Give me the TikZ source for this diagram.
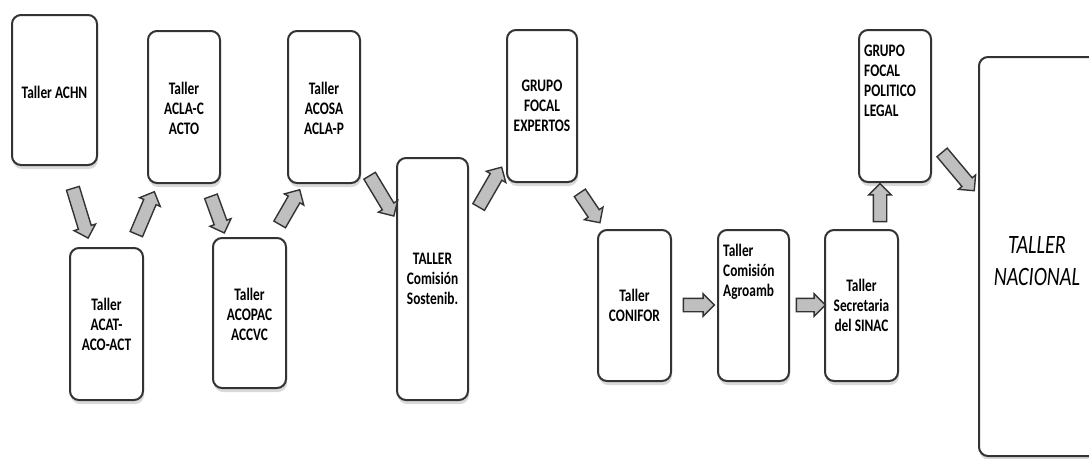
\documentclass[tikz,border=0pt]{standalone}
\usepackage{fontspec}
\setmainfont{Carlito}
\newfontfamily\narrowfont[FakeStretch=0.76]{Carlito}
\usetikzlibrary{shapes.arrows,shadows}
\tikzset{
  etapa/.style={draw=black!80,line width=2pt,rounded corners=9pt,fill=white,
    drop shadow={shadow xshift=1pt,shadow yshift=-4pt,opacity=0.3}},
  rotulo/.style={font=\narrowfont\bfseries\fontsize{17.6}{20}\selectfont,align=center,inner sep=0pt},
  flecha/.style={single arrow,draw=black!80,line width=1.4pt,fill=black!25,inner xsep=0pt,
    inner ysep=6pt,minimum width=0pt,single arrow head extend=4.5pt}
}
\begin{document}
\begin{tikzpicture}[x=1pt,y=-1pt]
  \useasboundingbox (0,0) rectangle (1089,458);
  \node[etapa,minimum width=85,minimum height=150] (achn) at (54.5,90) {};
  \node[etapa,minimum width=73,minimum height=152] (acat) at (106.5,324) {};
  \node[etapa,minimum width=72,minimum height=152] (aclac) at (184,107) {};
  \node[etapa,minimum width=73,minimum height=150] (acopac) at (249.5,313) {};
  \node[etapa,minimum width=72,minimum height=152] (acosa) at (324,107) {};
  \node[etapa,minimum width=71,minimum height=242] (sostenib) at (432.5,279) {};
  \node[etapa,minimum width=70,minimum height=152] (expertos) at (542,106) {};
  \node[etapa,minimum width=73,minimum height=151] (conifor) at (634.5,305.5) {};
  \node[etapa,minimum width=71,minimum height=151] (agroamb) at (753.5,305.5) {};
  \node[etapa,minimum width=73,minimum height=151] (sinac) at (861.5,305.5) {};
  \node[etapa,minimum width=72,minimum height=152] (politico) at (895,106) {};
  \node[etapa,minimum width=131,minimum height=399] (nacional) at (1044.5,256.5) {};

  \node[rotulo] (achnT) at ([yshift=-2]achn.center) {Taller ACHN};
  \node[rotulo] (acatT) at (acat.center) {Taller\\ACAT-\\ACO-ACT};
  \node[rotulo] (aclacT) at ([yshift=-1]aclac.center) {Taller\\ACLA-C\\ACTO};
  \node[rotulo] (acopacT) at ([yshift=-1]acopac.center) {Taller\\ACOPAC\\ACCVC};
  \node[rotulo] (acosaT) at ([yshift=-1]acosa.center) {Taller\\ACOSA\\ACLA-P};
  \node[rotulo] (sostenibT) at (sostenib.center) {TALLER\\Comisión\\Sostenib.};
  \node[rotulo] (expertosT) at (expertos.center) {GRUPO\\FOCAL\\EXPERTOS};
  \node[rotulo] (coniforT) at (conifor.center) {Taller\\CONIFOR};
  \node[rotulo,align=left,anchor=north west] (agroambT) at ([xshift=6,yshift=-15]agroamb.north west) {Taller\\Comisión\\Agroamb};
  \node[rotulo] (sinacT) at (sinac.center) {Taller\\Secretaria\\del SINAC};
  \node[rotulo,align=left,anchor=north west] (politicoT) at ([xshift=6,yshift=-16]politico.north west) {GRUPO\\FOCAL\\POLITICO\\LEGAL};
  \node[rotulo,font=\narrowfont\itshape\fontsize{26.5}{32}\selectfont] (nacionalT) at (1037,261) {TALLER\\NACIONAL};

  \node[flecha,rotate=-73,minimum height=52] (f1) at (79.5,210) {};
  \node[flecha,rotate=67,minimum height=46] (f2) at (144,216) {};
  \node[flecha,rotate=-70,minimum height=39] (f3) at (216.5,211.5) {};
  \node[flecha,rotate=60,minimum height=40] (f4) at (288,210) {};
  \node[flecha,rotate=-59,minimum height=47] (f5) at (380,193) {};
  \node[flecha,rotate=60,minimum height=46] (f6) at (488.5,190) {};
  \node[flecha,rotate=-56,minimum height=36] (f7) at (588,205) {};
  \node[flecha,minimum height=31] (f8) at (695.5,305) {};
  \node[flecha,minimum height=29] (f9) at (807.5,305) {};
  \node[flecha,rotate=90,minimum height=38] (f10) at (880,206) {};
  \node[flecha,rotate=-50,minimum height=50] (f11) at (956,169) {};
\end{tikzpicture}
\end{document}
